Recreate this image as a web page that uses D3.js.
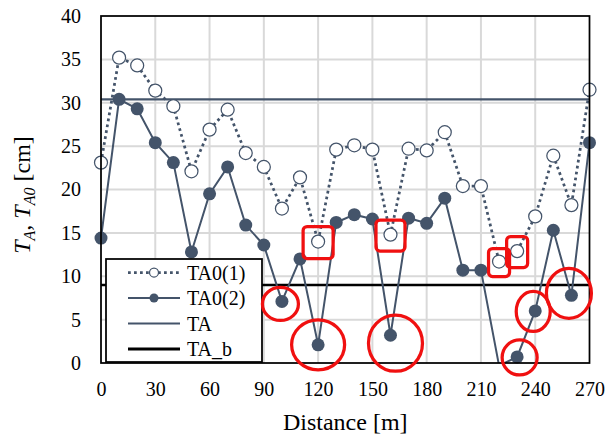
<!DOCTYPE html>
<html>
<head>
<meta charset="utf-8">
<script src="https://cdn.jsdelivr.net/npm/d3@7"></script>
<style>
  body { margin: 0; background: #fff; }
  svg { display: block; }
  svg text { font-family: "Liberation Serif", "Times New Roman", serif; }
</style>
</head>
<body>
<div id="chart"></div>
<script>
// data
var distance = [0, 10, 20, 30, 40, 50, 60, 70, 80, 90, 100, 110, 120, 130,
  140, 150, 160, 170, 180, 190, 200, 210, 220, 230, 240, 250, 260, 270];
var ta01 = [23.1, 35.2, 34.3, 31.4, 29.6, 22.1, 26.9, 29.2, 24.2, 22.6, 17.8, 21.4, 14.0, 24.6,
  25.1, 24.6, 14.8, 24.7, 24.5, 26.6, 20.4, 20.4, 11.7, 12.9, 16.9, 23.9, 18.2, 31.5];
var ta02 = [14.4, 30.4, 29.3, 25.4, 23.1, 12.8, 19.5, 22.6, 15.9, 13.6, 7.1, 12.0, 2.1, 16.2,
  17.1, 16.6, 3.2, 16.7, 16.1, 19.0, 10.7, 10.7, -0.3, 0.7, 6.0, 15.3, 7.8, 25.4];
var taValue = 30.4;
var taBValue = 9.0;
var xTicks = [0, 30, 60, 90, 120, 150, 180, 210, 240, 270];
var yTicks = [0, 5, 10, 15, 20, 25, 30, 35, 40];
var legendLabels = ["TA0(1)", "TA0(2)", "TA", "TA_b"];

// red marks drawn on the chart (distance of the marked point)
var circledOn02 = [100, 120, 160, 230, 240, 260];
var boxedOn01 = [120, 160, 220, 230];

var width = 605, height = 437;
var pLeft = 101, pRight = 589.5, pTop = 16, pBottom = 363;
var seriesColor = "#44546a";
var red = "#f01010";

var svg = d3.select("#chart").append("svg")
    .attr("width", width)
    .attr("height", height);

var x = d3.scaleLinear().domain([0, 270]).range([pLeft, pRight]);
var y = d3.scaleLinear().domain([0, 40]).range([pBottom, pTop]);

svg.append("defs").append("clipPath").attr("id", "plot-clip")
  .append("rect")
    .attr("x", pLeft).attr("y", pTop)
    .attr("width", pRight - pLeft).attr("height", pBottom - pTop);

// grid
var grid = svg.append("g").attr("class", "grid");
grid.selectAll(".gx")
  .data(xTicks.slice(1, -1))
  .enter().append("line")
    .attr("x1", function(d){ return x(d); })
    .attr("x2", function(d){ return x(d); })
    .attr("y1", pTop).attr("y2", pBottom)
    .attr("stroke", "#d9d9d9").attr("stroke-width", 2);
grid.selectAll(".gy")
  .data(yTicks.slice(1, -1))
  .enter().append("line")
    .attr("y1", function(d){ return y(d); })
    .attr("y2", function(d){ return y(d); })
    .attr("x1", pLeft).attr("x2", pRight)
    .attr("stroke", "#d9d9d9").attr("stroke-width", 2);

// axes
var xAxis = d3.axisBottom(x).tickValues(xTicks).tickSize(0).tickPadding(19);
var yAxis = d3.axisLeft(y).tickValues(yTicks).tickSize(0).tickPadding(20);

var xAxisG = svg.append("g")
    .attr("transform", "translate(0," + pBottom + ")")
    .call(xAxis);
var yAxisG = svg.append("g")
    .attr("transform", "translate(" + pLeft + ",0)")
    .call(yAxis);

[xAxisG, yAxisG].forEach(function(g){
  g.attr("font-family", null).attr("font-size", null);
  g.select(".domain").remove();
  g.selectAll("text")
    .attr("fill", "#000")
    .style("font-size", "20px");
});

var plot = svg.append("g").attr("clip-path", "url(#plot-clip)");

// reference lines
plot.append("line")
    .attr("x1", pLeft).attr("x2", pRight)
    .attr("y1", y(taValue)).attr("y2", y(taValue))
    .attr("stroke", seriesColor).attr("stroke-width", 2.25);
plot.append("line")
    .attr("x1", pLeft).attr("x2", pRight)
    .attr("y1", y(taBValue)).attr("y2", y(taBValue))
    .attr("stroke", "#000").attr("stroke-width", 2.5);

var line = function(vals){
  return d3.line()
    .x(function(d, i){ return x(distance[i]); })
    .y(function(d){ return y(d); })(vals);
};

// TA0(1) dotted
plot.append("path")
    .attr("d", line(ta01))
    .attr("fill", "none")
    .attr("stroke", seriesColor)
    .attr("stroke-width", 2.75)
    .attr("stroke-dasharray", "2.75 3.25");

// TA0(2) solid
plot.append("path")
    .attr("d", line(ta02))
    .attr("fill", "none")
    .attr("stroke", seriesColor)
    .attr("stroke-width", 2);

var pts = function(vals){
  return vals.map(function(v, i){ return {d: distance[i], v: v}; })
    .filter(function(p){ return p.v >= 0; });
};

svg.append("g").selectAll("circle")
  .data(pts(ta01))
  .enter().append("circle")
    .attr("cx", function(p){ return x(p.d); })
    .attr("cy", function(p){ return y(p.v); })
    .attr("r", 6.5)
    .attr("fill", "#fff")
    .attr("stroke", seriesColor)
    .attr("stroke-width", 1.25);

svg.append("g").selectAll("circle")
  .data(pts(ta02))
  .enter().append("circle")
    .attr("cx", function(p){ return x(p.d); })
    .attr("cy", function(p){ return y(p.v); })
    .attr("r", 6.5)
    .attr("fill", seriesColor);

// plot border
svg.append("rect")
    .attr("x", pLeft).attr("y", pTop)
    .attr("width", pRight - pLeft).attr("height", pBottom - pTop)
    .attr("fill", "none")
    .attr("stroke", "#000")
    .attr("stroke-width", 1.75);

// legend
var lg = svg.append("g").attr("transform", "translate(106,259)");
lg.append("rect")
    .attr("width", 156).attr("height", 103)
    .attr("fill", "#fff")
    .attr("stroke", "#000")
    .attr("stroke-width", 1.75);

var rowY = [13.5, 39, 64.5, 90];
legendLabels.forEach(function(name, i){
  var row = lg.append("g").attr("transform", "translate(0," + rowY[i] + ")");
  var ln = row.append("line")
      .attr("x1", 22).attr("x2", 74)
      .attr("stroke", i == 3 ? "#000" : seriesColor)
      .attr("stroke-width", i == 3 ? 3 : 2);
  if (i == 0) {
    ln.attr("stroke-width", 2.75).attr("stroke-dasharray", "2.75 3.25");
    row.append("circle").attr("cx", 48).attr("r", 4.5)
      .attr("fill", "#fff").attr("stroke", seriesColor).attr("stroke-width", 1.25);
  }
  if (i == 1) {
    row.append("circle").attr("cx", 48).attr("r", 4.5).attr("fill", seriesColor);
  }
  row.append("text")
      .attr("x", 81)
      .attr("dy", "0.35em")
      .style("font-size", "20px")
      .text(name);
});

// red highlights
var marks = svg.append("g").attr("fill", "none").attr("stroke", red).attr("stroke-width", 3.25);

var circleSize = {100: [18, 16.5, -1.5, 2.5], 120: [26.5, 25, 0, 0], 160: [27, 28, 5, 8],
  230: [17.5, 17.5, 2.5, 0.5], 240: [17, 20, -2, 0.5], 260: [22.5, 25, -2.5, -2]};
marks.selectAll("ellipse")
  .data(circledOn02)
  .enter().append("ellipse")
    .attr("cx", function(d){ return x(d) + circleSize[d][2]; })
    .attr("cy", function(d){ return y(ta02[distance.indexOf(d)]) + circleSize[d][3]; })
    .attr("rx", function(d){ return circleSize[d][0]; })
    .attr("ry", function(d){ return circleSize[d][1]; });

var boxSize = {120: [30, 32], 160: [29, 31], 220: [21, 28], 230: [21, 31]};
marks.selectAll("rect")
  .data(boxedOn01)
  .enter().append("rect")
    .attr("x", function(d){ return x(d) - boxSize[d][0] / 2; })
    .attr("y", function(d){ return y(ta01[distance.indexOf(d)]) - boxSize[d][1] / 2 + 1; })
    .attr("width", function(d){ return boxSize[d][0]; })
    .attr("height", function(d){ return boxSize[d][1]; })
    .attr("rx", 4);

// axis titles
svg.append("text")
    .attr("x", (pLeft + pRight) / 2)
    .attr("y", 430)
    .attr("text-anchor", "middle")
    .style("font-size", "24px")
    .text("Distance [m]");

var yt = svg.append("text")
    .attr("transform", "translate(30,195) rotate(-90)")
    .attr("text-anchor", "middle")
    .style("font-size", "24px");
yt.append("tspan").style("font-style", "italic").text("T");
yt.append("tspan").style("font-style", "italic").style("font-size", "16px").attr("dy", 5).text("A");
yt.append("tspan").attr("dy", -5).text(", ");
yt.append("tspan").style("font-style", "italic").text("T");
yt.append("tspan").style("font-style", "italic").style("font-size", "16px").attr("dy", 5).text("A0");
yt.append("tspan").attr("dy", -5).text(" [cm]");
</script>
</body>
</html>
